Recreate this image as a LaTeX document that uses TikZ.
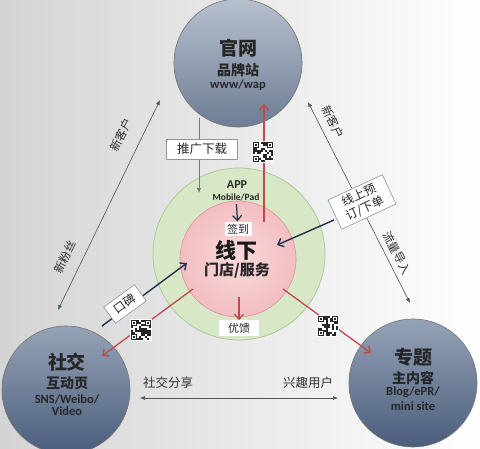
\documentclass[tikz,border=0pt]{standalone}
\usepackage{fontspec}
\setmainfont{Carlito}
\newfontfamily\cn{Noto Sans CJK SC}
\usetikzlibrary{arrows.meta,shapes,positioning,calc}

\definecolor{hubtop}{HTML}{B7C0CD}
\definecolor{hubbot}{HTML}{6E7D95}
\definecolor{hubdtop}{HTML}{95A3B7}
\definecolor{hubdbot}{HTML}{4B5D7C}
\definecolor{ringgreen}{HTML}{D8E8C6}
\definecolor{ringedge}{HTML}{AFC79B}
\definecolor{corepink}{HTML}{F3BEC2}
\definecolor{corelight}{HTML}{F8D9DA}
\definecolor{coreedge}{HTML}{D8959B}
\definecolor{flowred}{HTML}{C4474B}
\definecolor{navy}{HTML}{1E3049}
\definecolor{linegray}{HTML}{4D5560}
\definecolor{boxedge}{HTML}{8A96A3}

\tikzset{
  hub/.style={circle, draw=black!55, line width=0.6pt, minimum size=128pt, inner sep=0pt,
    top color=hubtop, bottom color=hubbot},
  hubdark/.style={top color=hubdtop, bottom color=hubdbot},
  ring/.style={circle, draw=ringedge, line width=0.8pt, fill=ringgreen, minimum size=172pt},
  core/.style={circle, draw=coreedge, line width=0.6pt, inner color=corelight, outer color=corepink,
    minimum size=116pt},
  bigcn/.style={font=\cn\bfseries\fontsize{19}{19}\selectfont, text=black!85},
  midcn/.style={font=\cn\bfseries\fontsize{14}{14}\selectfont, text=black!85},
  latin/.style={font=\bfseries\fontsize{12.5}{12.5}\selectfont, text=black!85},
  flowtext/.style={font=\cn\fontsize{11.5}{11.5}\selectfont, text=black!80},
  tagbox/.style={draw=boxedge, fill=white, line width=0.6pt, inner sep=3pt,
    font=\cn\fontsize{12}{14}\selectfont, text=black!85, align=center},
  plaintag/.style={fill=white, inner sep=2.5pt, font=\cn\fontsize{11}{11}\selectfont, text=black!85},
  redarrow/.style={draw=flowred, line width=1.3pt, -{Straight Barb[length=5pt,width=9pt]}},
  darkarrow/.style={draw=navy, line width=1.4pt, -{Straight Barb[length=5pt,width=9pt]}},
  grayline/.style={draw=linegray, line width=0.6pt, {Latex[length=5pt,width=4pt]}-{Latex[length=5pt,width=4pt]}},
  grayarrow/.style={draw=linegray!80, line width=0.6pt, -{Latex[length=5pt,width=4pt]}},
  qrcode/.pic={
    \pgfmathsetseed{#1}
    \fill[white] (-11,-11) rectangle (11,11);
    \foreach \i in {0,...,9}{
      \foreach \j in {0,...,9}{
        \pgfmathrandominteger{\qbit}{0}{1}
        \ifnum\qbit=1 \fill[black!85] (-10+2*\i,-10+2*\j) rectangle ++(2,2); \fi
      }
    }
    \foreach \cx/\cy in {-10/-10, 4/-10, -10/4}{
      \fill[black!85] (\cx,\cy) rectangle ++(6,6);
      \fill[white] (\cx+1,\cy+1) rectangle ++(4,4);
      \fill[black!85] (\cx+2,\cy+2) rectangle ++(2,2);
    }
  }
}

\begin{document}
\begin{tikzpicture}[x=1pt, y=-1pt]
    \useasboundingbox (0,0) rectangle (480,448);
    \clip (0,0) rectangle (480,448);
    % backdrop
    \shade[left color=black!17, right color=white] (0,0) rectangle (480,448);

    % rings in the middle
    \node[ring] (ring) at (239,254) {};
    \node[core] (core) at (238,259) {};

    % three hubs
    \node[hub] (web) at (238,63) {};
    \node[hub, hubdark] (sns) at (66,390) {};
    \node[hub, hubdark] (topic) at (413,383) {};

    \node[bigcn] (webname) at (238,48) {官网};
    \node[midcn] (websub) at (238,70) {品牌站};
    \node[latin] (weburl) at (238,85) {www/wap};

    \node[bigcn] (snsname) at (67,362) {社交};
    \node[midcn] (snssub) at (67,383) {互动页};
    \node[latin] (snsurl) at (67,399) {SNS/Weibo/};
    \node[latin] (snsvid) at (67,411) {Video};

    \node[bigcn] (topicname) at (413,357) {专题};
    \node[midcn] (topicsub) at (413,378) {主内容};
    \node[latin] (topicurl) at (413,392) {Blog/ePR/};
    \node[latin] (topicsite) at (413,406) {mini site};

    % long two-way lines
    \coordinate (lfA) at (58,310);
    \coordinate (lfB) at (160,100);
    \coordinate (rtA) at (308,102);
    \coordinate (rtB) at (410,303);
    \coordinate (btA) at (140,398);
    \coordinate (btB) at (338,398);
    \draw[grayline] (lfA) -- (lfB);
    \draw[grayline] (rtA) -- (rtB);
    \draw[grayline] (btA) -- (btB);
    \node[flowtext, rotate=64] (lfnew) at (121,135) {新客户};
    \node[flowtext, rotate=64] (lffans) at (65,257) {新粉丝};
    \node[flowtext, rotate=-63] (rtnew) at (333,122) {新客户};
    \node[flowtext, rotate=-63] (rtflow) at (397,253) {流量导入};
    \node[flowtext, font=\cn\fontsize{12.5}{12.5}\selectfont] (share) at (168,383) {社交分享};
    \node[flowtext, font=\cn\fontsize{12.5}{12.5}\selectfont] (users) at (308,383) {兴趣用户};

    % center texts
    \node[latin, font=\bfseries\fontsize{12}{12}\selectfont] (app) at (237,185) {APP};
    \node[latin, font=\bfseries\fontsize{9.5}{9.5}\selectfont] (mobile) at (236,197) {Mobile/Pad};
    \node[plaintag] (checkin) at (238,229) {签到};
    \node[font=\cn\bfseries\fontsize{21}{21}\selectfont, text=black!90] (offline) at (236,250) {线下};
    \node[midcn, font=\cn\bfseries\fontsize{15}{15}\selectfont] (store) at (237,270) {门店/服务};
    \node[plaintag, minimum width=40pt] (reward) at (239,328) {优馈};
    \draw[darkarrow, line width=1.2pt] (mobile) -- (checkin);
    \coordinate (rwA) at (239,297);
    \draw[redarrow] (rwA) -- (reward);

    % download
    \coordinate (dlA) at (199,118);
    \coordinate (dlB) at (199,193);
    \draw[grayarrow] (dlA) -- (dlB);
    \node[tagbox, minimum width=71pt, minimum height=20pt, font=\cn\fontsize{12.5}{12.5}\selectfont] (download) at (202,149) {推广下载};

    % flows out of the store
    \coordinate (upA) at (264,222);
    \coordinate (upB) at (264,104);
    \coordinate (slA) at (193,289);
    \coordinate (slB) at (102,356);
    \coordinate (srA) at (283,289);
    \coordinate (srB) at (371,353);
    \draw[redarrow] (upA) -- (upB);
    \draw[redarrow] (slA) -- (slB);
    \draw[redarrow] (srA) -- (srB);

    % flows into the store
    \coordinate (wmA) at (102,326);
    \coordinate (wmB) at (187,263);
    \coordinate (olA) at (334,220);
    \coordinate (olB) at (277,245);
    \draw[darkarrow] (wmA) -- (wmB);
    \draw[darkarrow] (olA) -- (olB);
    \node[tagbox, rotate=36, minimum width=38pt, minimum height=20pt] (wordofmouth) at (125,304) {口碑};
    \node[tagbox, rotate=25, minimum width=60pt] (online) at (362,202) {线上预\\订/下单};

    % codes
    \pic (qrtop) at (263,152) {qrcode=3};
    \pic (qrleft) at (141,330) {qrcode=7};
    \pic (qrright) at (328,326) {qrcode=11};
\end{tikzpicture}
\end{document}
